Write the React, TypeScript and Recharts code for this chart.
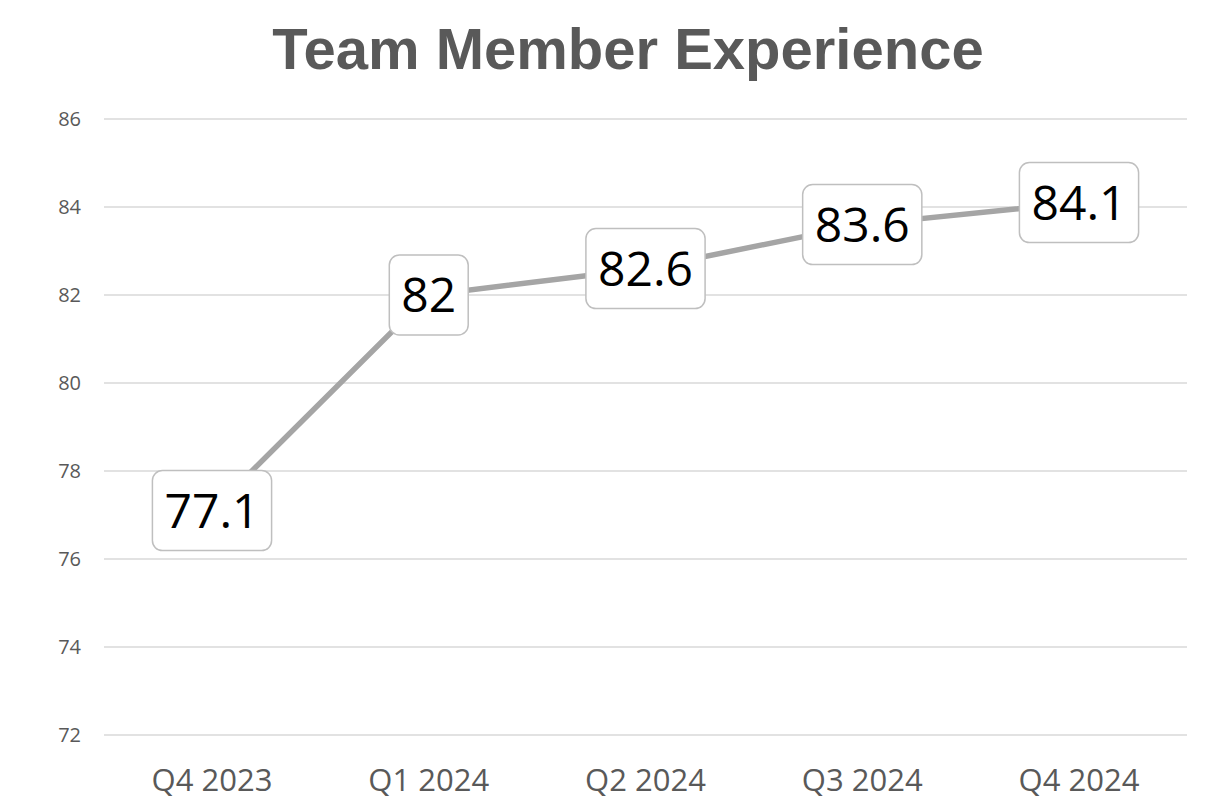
import React from 'react';
import { LineChart, Line, XAxis, YAxis, CartesianGrid, LabelList } from 'recharts';

const categories = ['Q4 2023', 'Q1 2024', 'Q2 2024', 'Q3 2024', 'Q4 2024'];
const scores = [77.1, 82, 82.6, 83.6, 84.1];
const yTicks = [72, 74, 76, 78, 80, 82, 84, 86];

const data = categories.map((c, i) => ({ name: c, value: scores[i] }));

const FONT = '"Open Sans", "Noto Sans", sans-serif';

const LabelBox = (props: any) => {
  const { x, y, value } = props;
  const s = String(value);
  const fs = 48;
  let w = 0;
  for (const ch of s) w += ch === '.' ? 0.267 * fs : 0.572 * fs;
  const bw = w + 24;
  const bh = 80;
  return (
    <g>
      <rect x={x - bw / 2} y={y - bh / 2} width={bw} height={bh} rx={10} ry={10}
        fill="#FFFFFF" stroke="#BFBFBF" strokeWidth={1.5} />
      <text x={x} y={y + 17} textAnchor="middle" fontSize={fs} fontFamily={FONT} fill="#000000">
        {s}
      </text>
    </g>
  );
};

export default function App() {
  return (
    <div style={{ position: 'absolute', left: 0, top: 0, width: 1217, height: 802, background: '#fff' }}>
      <div style={{
        position: 'absolute', left: 0, top: 14, width: 1256, textAlign: 'center',
        fontFamily: '"Liberation Sans", Arial, sans-serif', fontWeight: 'bold', fontSize: 58,
        color: '#595959', lineHeight: '70px'
      }}>
        Team Member Experience
      </div>
      <LineChart width={1217} height={802} data={data}
        margin={{ top: 119, right: 30, bottom: 0, left: 0 }}>
        <CartesianGrid vertical={false} stroke="#D9D9D9" strokeWidth={1.5} />
        <XAxis dataKey="name" axisLine={false} tickLine={false} tickSize={0} tickMargin={34}
          height={67} padding={{ left: 108, right: 108 }} interval={0}
          tick={{ fill: '#595959', fontSize: 31, fontFamily: FONT }} />
        <YAxis domain={[72, 86]} ticks={yTicks} axisLine={false} tickLine={false} tickSize={0}
          tickMargin={23} width={104} interval={0}
          tick={{ fill: '#595959', fontSize: 20, fontFamily: FONT }} />
        <Line type="linear" dataKey="value" stroke="#A5A5A5" strokeWidth={5.5} dot={false}
          isAnimationActive={false}>
          <LabelList dataKey="value" content={<LabelBox />} />
        </Line>
      </LineChart>
    </div>
  );
}
